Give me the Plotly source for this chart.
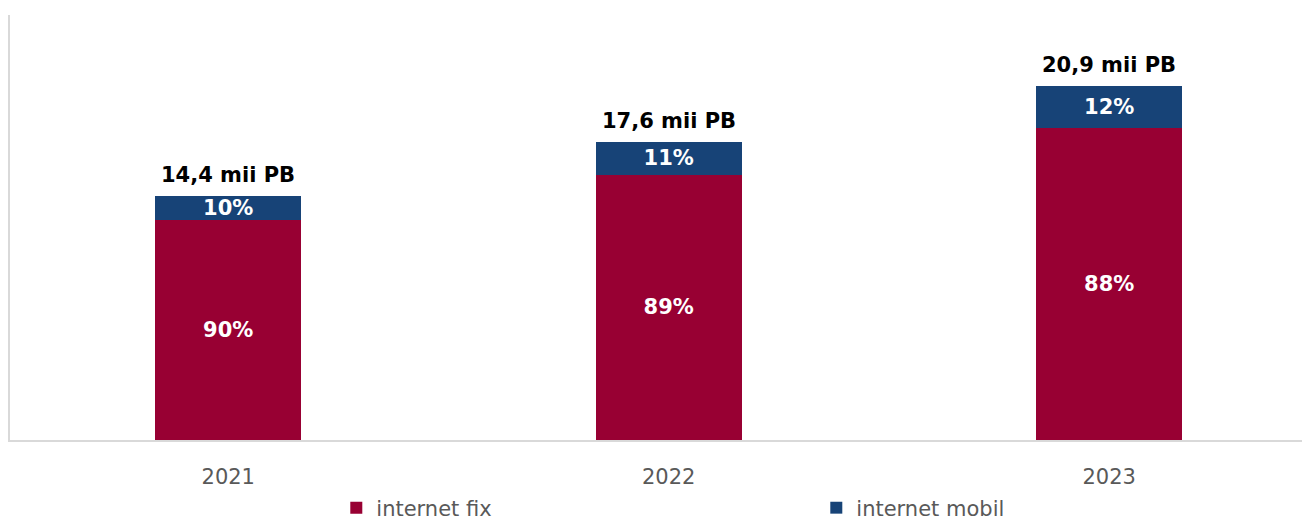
import plotly.graph_objects as go

years = ["2021", "2022", "2023"]
totals = [14.4, 17.6, 20.9]
total_labels = ["14,4 mii PB", "17,6 mii PB", "20,9 mii PB"]
share_fix = [90, 89, 88]
share_mobil = [10, 11, 12]

fix_vals = [t * s / 100 for t, s in zip(totals, share_fix)]
mob_vals = [t * s / 100 for t, s in zip(totals, share_mobil)]

FONT = "DejaVu Sans"

fig = go.Figure()
fig.add_trace(go.Bar(
    x=years, y=fix_vals, name="internet fix",
    marker=dict(color="#980033", line=dict(width=0)),
    text=[f"{s}%" for s in share_fix], textposition="inside",
    insidetextanchor="middle", constraintext="none",
    textfont=dict(family=FONT, size=21, color="white", weight="bold"),
))
fig.add_trace(go.Bar(
    x=years, y=mob_vals, name="internet mobil",
    marker=dict(color="#174377", line=dict(width=0)),
    text=[f"{s}%" for s in share_mobil], textposition="inside",
    insidetextanchor="middle", constraintext="none",
    textfont=dict(family=FONT, size=21, color="white", weight="bold"),
))

for i, (t, lab) in enumerate(zip(totals, total_labels)):
    fig.add_annotation(x=i, y=t, xref="x", yref="y", text=f"<b>{lab}</b>",
                       showarrow=False, yanchor="bottom", yshift=7,
                       font=dict(family=FONT, size=21, color="black"))

fig.update_layout(
    width=1302, height=512,
    margin=dict(l=2, r=0, t=7, b=80, autoexpand=False),
    barmode="stack", bargap=0.6686,
    plot_bgcolor="white", paper_bgcolor="white",
    font=dict(family=FONT, size=21, color="#595959"),
    showlegend=True,
    legend=dict(orientation="h", x=0.251, xanchor="left", y=-0.16, yanchor="middle",
                entrywidth=435, traceorder="normal",
                font=dict(family=FONT, size=21, color="#595959")),
)
fig.update_xaxes(type="category", range=[-0.4955, 2.456], showline=True,
                 linecolor="#D9D9D9", linewidth=2,
                 ticks="", showgrid=False, ticklabelstandoff=17,
                 tickfont=dict(family=FONT, size=21, color="#595959"))
fig.update_yaxes(range=[0, 25.09], showline=True, linecolor="#D9D9D9", linewidth=2,
                 showticklabels=False, ticks="", showgrid=False, zeroline=False)

fig.write_html("out.html")
